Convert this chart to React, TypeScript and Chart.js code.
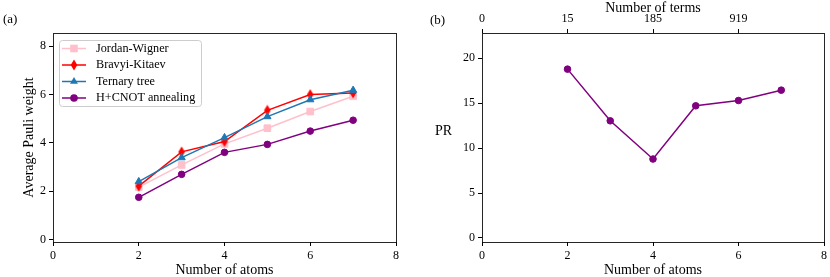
import React, { useEffect, useRef } from 'react';
import { Chart, registerables } from 'chart.js';

Chart.register(...registerables);

// ---- data ----
const atoms = [2, 3, 4, 5, 6, 7];
const jordanWigner = [2.17, 3.09, 3.96, 4.61, 5.3, 5.93];
const bravyiKitaev = [2.21, 3.63, 4.06, 5.35, 6.0, 6.07];
const ternaryTree = [2.4, 3.39, 4.22, 5.09, 5.79, 6.18];
const hCnotAnnealing = [1.75, 2.7, 3.61, 3.94, 4.49, 4.94];
const prValues = [18.78, 13.03, 8.78, 14.7, 15.29, 16.44];

const xTicks = [0, 2, 4, 6, 8];
const leftYTicks = [0, 2, 4, 6, 8];
const rightYTicks = [0, 5, 10, 15, 20];
const termTickPositions = [0, 2, 4, 6];
const termTickLabels = ['0', '15', '185', '919'];

const seriesLabels = ['Jordan-Wigner', 'Bravyi-Kitaev', 'Ternary tree', 'H+CNOT annealing'];

const SERIF = "'Liberation Serif', 'DejaVu Serif', serif";
const tickFont = { family: SERIF, size: 12 };
const titleFont = { family: SERIF, size: 14 };

const PINK = '#ffc0cb';
const RED = '#ff0000';
const BLUE = '#1f77b4';
const PURPLE = '#800080';

function makeThinDiamond(color: string): HTMLCanvasElement {
  const c = document.createElement('canvas');
  c.width = 8;
  c.height = 12;
  const ctx = c.getContext('2d')!;
  ctx.fillStyle = color;
  ctx.beginPath();
  ctx.moveTo(4, 0.5);
  ctx.lineTo(7.3, 6);
  ctx.lineTo(4, 11.5);
  ctx.lineTo(0.7, 6);
  ctx.closePath();
  ctx.fill();
  return c;
}

const align = (p: number) => Math.round(p - 0.5) + 0.5;

const boxPlugin = {
  id: 'boxPlugin',
  afterDatasetsDraw(chart: any) {
    const { ctx, chartArea } = chart;
    ctx.save();
    ctx.strokeStyle = 'rgba(0,0,0,0.85)';
    ctx.lineWidth = 1;
    const l = align(chartArea.left);
    const r = align(chartArea.right);
    const t = align(chartArea.top);
    const b = align(chartArea.bottom);
    ctx.strokeRect(l, t, r - l, b - t);
    ctx.restore();
  },
};

function textPlugin(items: { text: string; x: number; y: number; size: number; align?: CanvasTextAlign }[]) {
  return {
    id: 'textPlugin',
    afterDraw(chart: any) {
      const ctx = chart.ctx;
      ctx.save();
      ctx.fillStyle = '#000';
      ctx.textBaseline = 'middle';
      for (const it of items) {
        ctx.font = `${it.size}px ${SERIF}`;
        ctx.textAlign = it.align || 'left';
        ctx.fillText(it.text, it.x, it.y);
      }
      ctx.restore();
    },
  };
}

function legendPlugin(diamond: HTMLCanvasElement) {
  return {
    id: 'insideLegend',
    afterDraw(chart: any) {
      const ctx = chart.ctx;
      ctx.save();
      const bx = 59.5, by = 40.5, bw = 142, bh = 66;
      ctx.beginPath();
      (ctx as any).roundRect(bx, by, bw, bh, 3);
      ctx.fillStyle = 'rgba(255,255,255,0.8)';
      ctx.fill();
      ctx.strokeStyle = '#cccccc';
      ctx.lineWidth = 1;
      ctx.stroke();
      const rows = [48.5, 65, 81.5, 98];
      const colors = [PINK, RED, BLUE, PURPLE];
      const shapes = ['rect', 'diamond', 'triangle', 'circle'];
      for (let i = 0; i < 4; i++) {
        const y = rows[i];
        ctx.strokeStyle = colors[i];
        ctx.lineWidth = 1.5;
        ctx.beginPath();
        ctx.moveTo(62, y);
        ctx.lineTo(86, y);
        ctx.stroke();
        const cx = 74;
        ctx.fillStyle = colors[i];
        ctx.beginPath();
        if (shapes[i] === 'rect') {
          ctx.rect(cx - 3.8, y - 3.8, 7.6, 7.6);
          ctx.fill();
        } else if (shapes[i] === 'diamond') {
          ctx.drawImage(diamond, cx - 4, y - 6);
        } else if (shapes[i] === 'triangle') {
          const r = 4.6;
          ctx.moveTo(cx, y - r);
          ctx.lineTo(cx + r * 0.866, y + r * 0.5);
          ctx.lineTo(cx - r * 0.866, y + r * 0.5);
          ctx.closePath();
          ctx.fill();
        } else {
          ctx.arc(cx, y, 3.8, 0, Math.PI * 2);
          ctx.fill();
        }
        ctx.fillStyle = '#000';
        ctx.font = `12.2px ${SERIF}`;
        ctx.textAlign = 'left';
        ctx.textBaseline = 'middle';
        ctx.fillText(seriesLabels[i], 96, y);
      }
      ctx.restore();
    },
  };
}

const tickGrid = { drawOnChartArea: false, drawTicks: true, tickLength: 4, color: '#000', lineWidth: 1 };

function pts(ys: number[]) {
  return atoms.map((x, i) => ({ x, y: ys[i] }));
}

export default function App() {
  const leftRef = useRef<HTMLCanvasElement>(null);
  const rightRef = useRef<HTMLCanvasElement>(null);

  useEffect(() => {
    const diamond = makeThinDiamond(RED);
    const lineCommon = { borderWidth: 1.5, tension: 0, pointBorderWidth: 1 };

    const left = new Chart(leftRef.current!, {
      type: 'line',
      data: {
        datasets: [
          { label: seriesLabels[0], data: pts(jordanWigner), borderColor: PINK, backgroundColor: PINK, pointBorderColor: PINK, pointBackgroundColor: PINK, pointStyle: 'rect', pointRadius: 4.7, order: 3, ...lineCommon },
          { label: seriesLabels[1], data: pts(bravyiKitaev), borderColor: RED, backgroundColor: RED, pointStyle: diamond, pointRadius: 5, order: 2, ...lineCommon },
          { label: seriesLabels[2], data: pts(ternaryTree), borderColor: BLUE, backgroundColor: BLUE, pointBorderColor: BLUE, pointBackgroundColor: BLUE, pointStyle: 'triangle', pointRadius: 4.2, order: 1, ...lineCommon },
          { label: seriesLabels[3], data: pts(hCnotAnnealing), borderColor: PURPLE, backgroundColor: PURPLE, pointBorderColor: PURPLE, pointBackgroundColor: PURPLE, pointStyle: 'circle', pointRadius: 3.3, order: 0, ...lineCommon },
        ],
      },
      options: {
        animation: false,
        responsive: false,
        devicePixelRatio: 1,
        layout: { padding: { top: 33, right: 19, left: 0, bottom: 0 } },
        plugins: { legend: { display: false }, tooltip: { enabled: false } },
        scales: {
          x: {
            type: 'linear', min: 0, max: 8,
            afterBuildTicks: (s: any) => { s.ticks = xTicks.map((v) => ({ value: v })); },
            afterFit: (s: any) => { s.height = 35; },
            grid: tickGrid, border: { display: false },
            ticks: { font: tickFont, color: '#000', padding: 3, maxRotation: 0, autoSkip: false },
            title: { display: true, text: 'Number of atoms', font: titleFont, color: '#000', padding: { top: 0, bottom: -1.5 } },
          },
          y: {
            type: 'linear', min: -0.1, max: 8.55,
            afterBuildTicks: (s: any) => { s.ticks = leftYTicks.map((v) => ({ value: v })); },
            afterFit: (s: any) => { s.width = 53; },
            grid: tickGrid, border: { display: false },
            ticks: { font: tickFont, color: '#000', padding: 3, autoSkip: false },
            title: { display: true, text: 'Average Pauli weight', font: titleFont, color: '#000', padding: { top: 21, bottom: 0 } },
          },
        },
      } as any,
      plugins: [boxPlugin, legendPlugin(diamond), textPlugin([{ text: '(a)', x: 3, y: 20, size: 13 }])],
    });

    const right = new Chart(rightRef.current!, {
      type: 'line',
      data: {
        datasets: [
          { label: 'PR', data: pts(prValues), xAxisID: 'x', yAxisID: 'y', borderColor: PURPLE, backgroundColor: PURPLE, pointBorderColor: PURPLE, pointBackgroundColor: PURPLE, pointStyle: 'circle', pointRadius: 3.3, ...lineCommon },
        ],
      },
      options: {
        animation: false,
        responsive: false,
        devicePixelRatio: 1,
        layout: { padding: { top: 0, right: 6, left: 0, bottom: 0 } },
        plugins: { legend: { display: false }, tooltip: { enabled: false } },
        scales: {
          x: {
            type: 'linear', position: 'bottom', min: 0, max: 8,
            afterBuildTicks: (s: any) => { s.ticks = xTicks.map((v) => ({ value: v })); },
            afterFit: (s: any) => { s.height = 35; },
            grid: tickGrid, border: { display: false },
            ticks: { font: tickFont, color: '#000', padding: 3, maxRotation: 0, autoSkip: false },
            title: { display: true, text: 'Number of atoms', font: titleFont, color: '#000', padding: { top: 0, bottom: -1.5 } },
          },
          x2: {
            type: 'linear', position: 'top', min: 0, max: 8,
            afterBuildTicks: (s: any) => { s.ticks = termTickPositions.map((v) => ({ value: v })); },
            afterFit: (s: any) => { s.height = 33; },
            grid: tickGrid, border: { display: false },
            ticks: {
              font: tickFont, color: '#000', padding: 3, maxRotation: 0, autoSkip: false,
              callback: (v: any) => {
                const idx = termTickPositions.indexOf(Number(v));
                return idx >= 0 ? termTickLabels[idx] : '';
              },
            },
            title: { display: true, text: 'Number of terms', font: titleFont, color: '#000', padding: { top: -0.5, bottom: 0 } },
          },
          y: {
            type: 'linear', min: -0.45, max: 22.8,
            afterBuildTicks: (s: any) => { s.ticks = rightYTicks.map((v) => ({ value: v })); },
            afterFit: (s: any) => { s.width = 67; },
            grid: tickGrid, border: { display: false },
            ticks: { font: tickFont, color: '#000', padding: 3, autoSkip: false },
          },
        },
      } as any,
      plugins: [boxPlugin, textPlugin([
        { text: '(b)', x: 15, y: 20.5, size: 13 },
        { text: 'PR', x: 28.5, y: 131, size: 14, align: 'center' },
      ])],
    });

    return () => {
      left.destroy();
      right.destroy();
    };
  }, []);

  return (
    <div style={{ position: 'absolute', left: 0, top: 0, width: 830, height: 277, background: '#fff' }}>
      <canvas ref={leftRef} width={415} height={277} style={{ position: 'absolute', left: 0, top: 0, width: 415, height: 277 }} />
      <canvas ref={rightRef} width={415} height={277} style={{ position: 'absolute', left: 415, top: 0, width: 415, height: 277 }} />
    </div>
  );
}
